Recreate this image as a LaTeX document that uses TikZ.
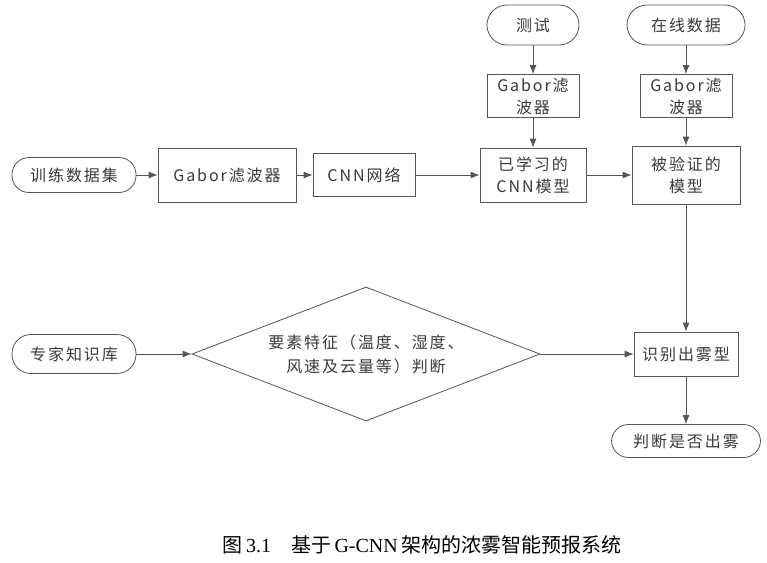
\documentclass[tikz,border=0pt]{standalone}
\usepackage{fontspec}
\setmainfont{Liberation Serif}
\newfontfamily\cjk[LetterSpace=12]{Noto Sans CJK SC}
\newfontfamily\capfont{Noto Sans CJK SC}
\usetikzlibrary{shapes.geometric,arrows.meta}
\definecolor{linegray}{HTML}{555555}
\definecolor{textgray}{HTML}{3A3A3A}
\tikzset{
  box/.style={draw=linegray, line width=0.8pt, rectangle, inner sep=0pt, align=center, text=textgray, font=\cjk\fontsize{16}{22}\selectfont},
  term/.style={box, rounded corners=17pt},
  judge/.style={draw=linegray, line width=0.8pt, diamond, inner sep=0pt, align=center, text=textgray, font=\cjk\fontsize{16}{24}\selectfont},
  flow/.style={draw=linegray, line width=0.8pt, -{Latex[length=9pt,width=7pt]}}
}
\begin{document}
\begin{tikzpicture}[x=1pt,y=-1pt]
\useasboundingbox (0,0) rectangle (767,562);
\node[term, minimum width=124pt, minimum height=35pt] (train) at (74,175){训练数据集};
\node[box, minimum width=138pt, minimum height=54pt] (gabor) at (227,175){Gabor滤波器};
\node[box, minimum width=102pt, minimum height=43pt] (cnn) at (364,175){CNN网络};
\node[box, minimum width=106pt, minimum height=54pt] (learned) at (533,175){已学习的\\CNN模型};
\node[term, minimum width=92pt, minimum height=40pt, rounded corners=20pt] (test) at (533,25){测试};
\node[box, minimum width=92pt, minimum height=43pt] (gaborA) at (533,96){Gabor滤\\波器};
\node[term, minimum width=118pt, minimum height=40pt, rounded corners=20pt] (online) at (686,25){在线数据};
\node[box, minimum width=92pt, minimum height=43pt] (gaborB) at (686,96){Gabor滤\\波器};
\node[box, minimum width=108pt, minimum height=58pt] (verified) at (686,175){被验证的\\模型};
\node[box, minimum width=104pt, minimum height=44pt] (identify) at (686,354){识别出雾型};
\node[term, minimum width=149pt, minimum height=33pt] (result) at (686,441){判断是否出雾};
\node[term, minimum width=124pt, minimum height=39pt, rounded corners=19pt] (expert) at (74,354){专家知识库};
\node[judge, minimum width=348pt, minimum height=134pt, aspect=2.6] (factor) at (366,354){要素特征（温度、湿度、\\风速及云量等）判断};
\draw[flow] (train) -- (gabor);
\draw[flow] (gabor) -- (cnn);
\draw[flow] (cnn) -- (learned);
\draw[flow] (test) -- (gaborA);
\draw[flow] (gaborA) -- (learned);
\draw[flow] (learned) -- (verified);
\draw[flow] (online) -- (gaborB);
\draw[flow] (gaborB) -- (verified);
\draw[flow] (verified) -- (identify);
\draw[flow] (expert) -- (factor.west);
\draw[flow] (factor.east) -- (identify);
\draw[flow] (identify) -- (result);
\node[font=\capfont\fontsize{20}{22}\selectfont, text=black] (caption) at (422,545){图\,{\rmfamily 3.1}\quad 基于\,{\rmfamily G-CNN}\,架构的浓雾智能预报系统};
\end{tikzpicture}
\end{document}
